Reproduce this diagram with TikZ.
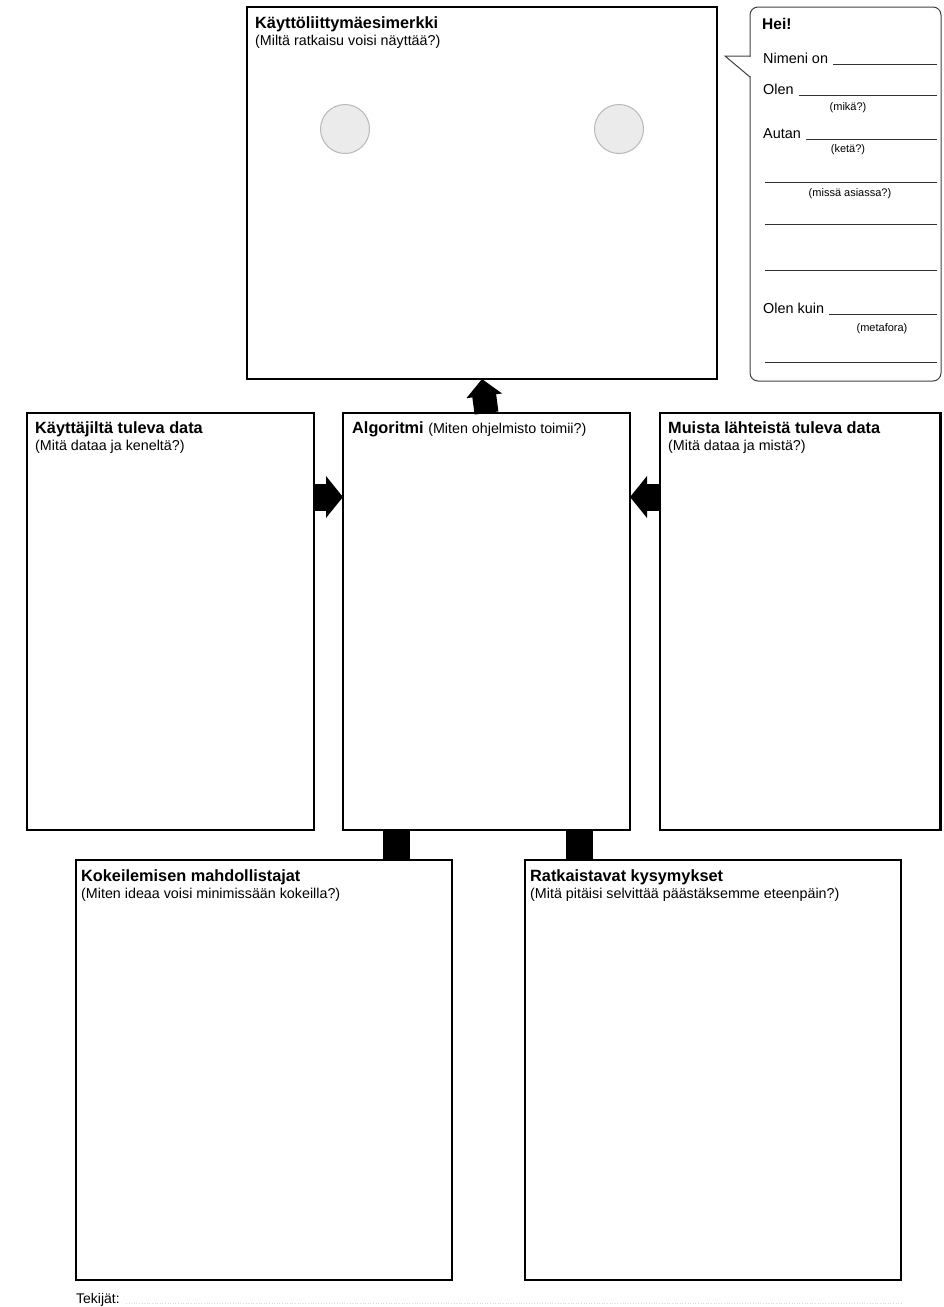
\documentclass[tikz,border=0pt]{standalone}
\usepackage{fontspec}
\setmainfont{Liberation Sans}
\usetikzlibrary{arrows.meta,calc}
\begin{document}
\begin{tikzpicture}[x=1pt,y=-1pt,
  box/.style={draw=black, line width=2.8pt, rectangle, inner sep=0pt, outer sep=0pt, anchor=north west},
  bubble/.style={draw=black!75, line width=1pt, rectangle, rounded corners=8pt, inner sep=0pt, outer sep=0pt, anchor=north west},
  ttl/.style={inner sep=0pt, anchor=base west, font=\fontsize{16.3}{19}\selectfont\bfseries},
  sub/.style={inner sep=0pt, anchor=base west, font=\fontsize{14.3}{17}\selectfont},
  btxt/.style={inner sep=0pt, anchor=base west, font=\fontsize{14.4}{17}\selectfont},
  small/.style={inner sep=0pt, anchor=base, font=\fontsize{11}{13}\selectfont},
  blank/.style={draw=black!80, line width=0.8pt},
  knob/.style={circle, draw=black!28, fill=black!8, line width=1pt, minimum size=49pt, inner sep=0pt},
  harrow/.style={line width=27pt, -{Triangle[length=17pt,width=41pt]}},
  varrow/.style={line width=24pt, -{Triangle[length=17pt,width=35pt]}},
  bar/.style={line width=27pt}
]
\useasboundingbox (0,0) rectangle (943,1307);

% boxes
\node[box, minimum width=470pt, minimum height=372pt] (ui) at (247,7) {};
\node[box, minimum width=287pt, minimum height=417pt] (user) at (27,413) {};
\node[box, minimum width=287pt, minimum height=417pt] (algo) at (343,413) {};
\node[box, minimum width=280.5pt, minimum height=417pt] (other) at (660,413) {};
\node[box, minimum width=376pt, minimum height=420pt] (exp) at (76,860) {};
\node[box, minimum width=376pt, minimum height=420pt] (quest) at (525,860) {};

% titles
\node[ttl] (uiT) at ($(ui.north west)+(8,21)$) {Käyttöliittymäesimerkki};
\node[sub] (uiS) at ($(ui.north west)+(8,38)$) {(Miltä ratkaisu voisi näyttää?)};
\node[ttl] (userT) at ($(user.north west)+(8,20)$) {Käyttäjiltä tuleva data};
\node[sub] (userS) at ($(user.north west)+(8,37)$) {(Mitä dataa ja keneltä?)};
\node[ttl] (algoT) at ($(algo.north west)+(9,20)$) {Algoritmi \mdseries\fontsize{14.3}{17}\selectfont (Miten ohjelmisto toimii?)};
\node[ttl] (otherT) at ($(other.north west)+(8,20)$) {Muista lähteistä tuleva data};
\node[sub] (otherS) at ($(other.north west)+(8,37)$) {(Mitä dataa ja mistä?)};
\node[ttl] (expT) at ($(exp.north west)+(5,21)$) {Kokeilemisen mahdollistajat};
\node[sub] (expS) at ($(exp.north west)+(5,38)$) {(Miten ideaa voisi minimissään kokeilla?)};
\node[ttl] (questT) at ($(quest.north west)+(5,21)$) {Ratkaistavat kysymykset};
\node[sub] (questS) at ($(quest.north west)+(5,38)$) {(Mitä pitäisi selvittää päästäksemme eteenpäin?)};

% circles
\node[knob] (k1) at (345,129) {};
\node[knob] (k2) at (619,129) {};

% connectors
\coordinate (ay) at (0,497);
\draw[varrow] (algo.north) -- (ui.south);
\draw[harrow] (user.east |- ay) -- (algo.west |- ay);
\draw[harrow] (other.west |- ay) -- (algo.east |- ay);
\coordinate (b1) at (396,0);
\coordinate (b2) at (579.5,0);
\draw[bar] (algo.south -| b1) -- (exp.north -| b1);
\draw[bar] (algo.south -| b2) -- (quest.north -| b2);

% speech bubble
\node[bubble, minimum width=191pt, minimum height=374pt] (hei) at (750,7) {};
\coordinate (tA) at ($(hei.north west)+(0,49)$);
\coordinate (tB) at ($(hei.north west)+(0,70)$);
\draw[white, line width=2pt] ($(tA)+(0,1)$) -- ($(tB)+(0,-1)$);
\draw[draw=black!75, line width=1pt, line join=miter] (tA) -- ++(-25,0) -- (tB);

\coordinate (rx) at (937,0);
\coordinate (lx) at (765,0);
\node[inner sep=0pt, anchor=base west, font=\fontsize{15.5}{18}\selectfont\bfseries] (hi) at (762,29) {Hei!};
\node[btxt] (l1) at (763,63) {Nimeni on};
\draw[blank] ($(l1.base east)+(5,1.5)$) -- ($(l1.base east -| rx)+(0,1.5)$);
\node[btxt] (l2) at (763,94) {Olen};
\draw[blank] ($(l2.base east)+(5,1.5)$) -- ($(l2.base east -| rx)+(0,1.5)$);
\node[small] (l2s) at (848,110) {(mikä?)};
\node[btxt] (l3) at (763,138) {Autan};
\draw[blank] ($(l3.base east)+(5,1.5)$) -- ($(l3.base east -| rx)+(0,1.5)$);
\node[small] (l3s) at (848,152) {(ketä?)};
\coordinate (y4) at (0,182);
\draw[blank] (lx |- y4) -- (rx |- y4);
\node[small] (l4s) at (850,196) {(missä asiassa?)};
\coordinate (y5) at (0,224);
\draw[blank] (lx |- y5) -- (rx |- y5);
\coordinate (y6) at (0,270);
\draw[blank] (lx |- y6) -- (rx |- y6);
\node[btxt] (l7) at (763,313) {Olen kuin};
\draw[blank] ($(l7.base east)+(5,1.5)$) -- ($(l7.base east -| rx)+(0,1.5)$);
\node[small] (l7s) at (882,331) {(metafora)};
\coordinate (y8) at (0,362);
\draw[blank] (lx |- y8) -- (rx |- y8);

% authors
\node[inner sep=0pt, anchor=base west, font=\fontsize{14}{17}\selectfont] (auth) at (76,1303) {Tekijät:};
\coordinate (ax) at (903,0);
\draw[black!15, dotted, line width=0.6pt] ($(auth.base east)+(6,0)$) -- (auth.base east -| ax);
\end{tikzpicture}
\end{document}
